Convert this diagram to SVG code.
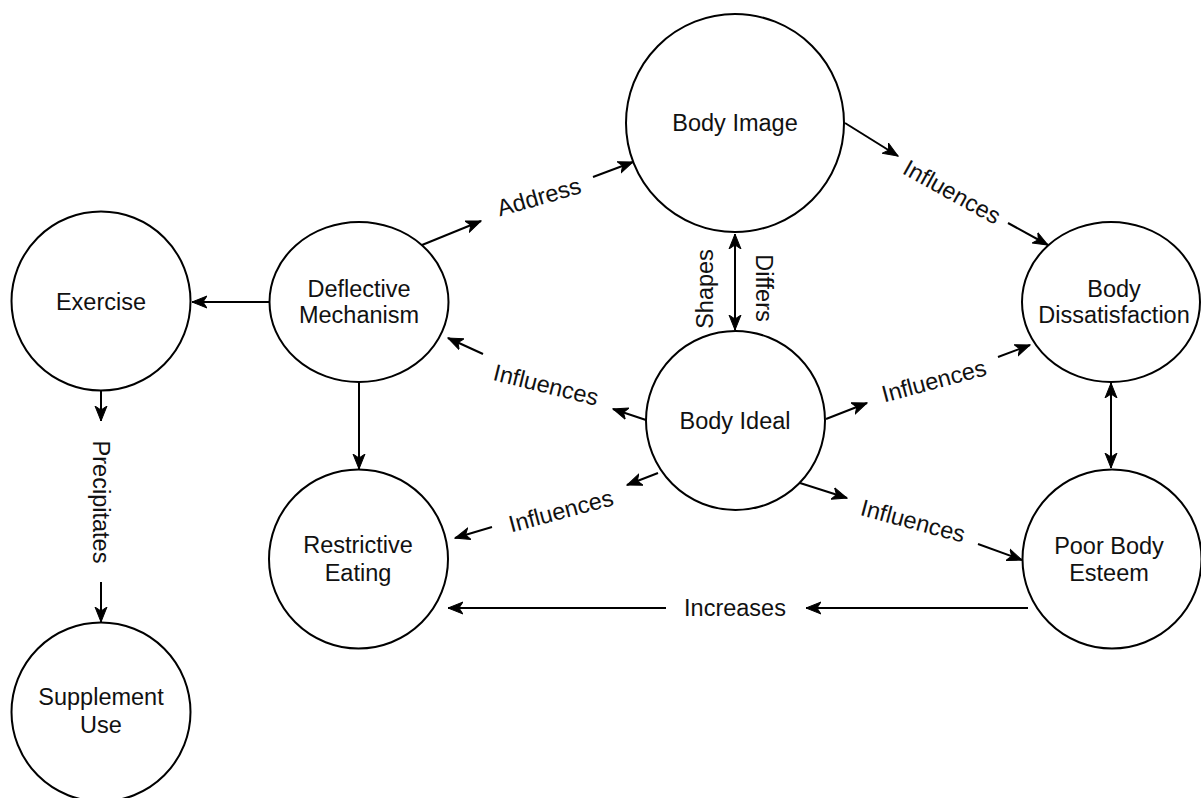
<svg xmlns="http://www.w3.org/2000/svg" width="1201" height="798" viewBox="0 0 1201 798">
<style>
.n{fill:#fff;stroke:#000;stroke-width:2}
.t{font-family:"Liberation Sans",Arial,Helvetica,sans-serif;font-size:23.5px;fill:#111;text-anchor:middle}
.ea{fill:none;stroke:#000;stroke-width:2;marker-end:url(#ah)}
.eb{fill:none;stroke:#000;stroke-width:2;marker-end:url(#ah);marker-start:url(#ah)}
</style>
<defs>
<marker id="ah" markerUnits="userSpaceOnUse" markerWidth="16" markerHeight="14" refX="15" refY="6.5" orient="auto-start-reverse" viewBox="0 0 16 13">
<path d="M0,0.5 L15,6.5 L0,12.5 L4,6.5 Z" fill="#000" stroke="#000" stroke-width="1"/>
</marker>
</defs>
<rect width="1201" height="798" fill="#fff"/>
<g id="connectors">
<line class="ea" x1="269" y1="302" x2="192" y2="302"/>
<line class="ea" x1="101" y1="391" x2="101" y2="421"/>
<line class="ea" x1="101" y1="582" x2="101" y2="622"/>
<line class="ea" x1="359" y1="382" x2="359" y2="469"/>
<line class="ea" x1="422" y1="245" x2="481" y2="221"/>
<line class="ea" x1="593" y1="177" x2="633" y2="162"/>
<line class="ea" x1="845" y1="123" x2="898" y2="156"/>
<line class="ea" x1="1008" y1="223" x2="1048" y2="245"/>
<line class="eb" x1="735" y1="234" x2="735" y2="330"/>
<line class="ea" x1="646" y1="420" x2="613" y2="409"/>
<line class="ea" x1="483" y1="354" x2="448" y2="338"/>
<line class="ea" x1="826" y1="419" x2="867" y2="403"/>
<line class="ea" x1="998" y1="357" x2="1030" y2="345"/>
<line class="ea" x1="658" y1="473" x2="627" y2="485"/>
<line class="ea" x1="492" y1="527" x2="455" y2="538"/>
<line class="ea" x1="800" y1="483" x2="847" y2="498"/>
<line class="ea" x1="978" y1="544" x2="1022" y2="560"/>
<line class="ea" x1="1028" y1="608" x2="806" y2="608"/>
<line class="ea" x1="666" y1="608" x2="448" y2="608"/>
<line class="eb" x1="1111" y1="383" x2="1111" y2="468"/>
<g>
<text class="t" transform="translate(539,197) rotate(-16)" y="8">Address</text>
<text class="t" transform="translate(952,192) rotate(29)" y="8">Influences</text>
<text class="t" transform="translate(705,289) rotate(-90)" y="8">Shapes</text>
<text class="t" transform="translate(764,288) rotate(90)" y="8">Differs</text>
<text class="t" transform="translate(546,385) rotate(14)" y="8">Influences</text>
<text class="t" transform="translate(934,381) rotate(-15)" y="8">Influences</text>
<text class="t" transform="translate(561,511) rotate(-15)" y="8">Influences</text>
<text class="t" transform="translate(913,521) rotate(15)" y="8">Influences</text>
<text class="t" x="735" y="616">Increases</text>
<text class="t" transform="translate(101,502) rotate(90)" y="8">Precipitates</text>
</g>
</g>
<g id="body-image"><circle class="n" cx="735" cy="123" r="109"/><text class="t" x="735" y="131">Body Image</text></g>
<g id="exercise"><circle class="n" cx="101" cy="301" r="89.5"/><text class="t" x="101" y="310">Exercise</text></g>
<g id="deflective-mechanism"><ellipse class="n" cx="359" cy="302" rx="89.5" ry="80"/><text class="t" x="359" y="297">Deflective</text><text class="t" x="359" y="323">Mechanism</text></g>
<g id="body-ideal"><circle class="n" cx="735.5" cy="420.5" r="89.5"/><text class="t" x="735" y="429">Body Ideal</text></g>
<g id="body-dissatisfaction"><ellipse class="n" cx="1111" cy="302" rx="89" ry="80"/><text class="t" x="1114" y="297">Body</text><text class="t" x="1114" y="323">Dissatisfaction</text></g>
<g id="poor-body-esteem"><circle class="n" cx="1112" cy="559" r="89.5"/><text class="t" x="1109" y="554">Poor Body</text><text class="t" x="1109" y="581">Esteem</text></g>
<g id="restrictive-eating"><circle class="n" cx="358.5" cy="559" r="89.5"/><text class="t" x="358" y="553">Restrictive</text><text class="t" x="358" y="581">Eating</text></g>
<g id="supplement-use"><circle class="n" cx="101" cy="712" r="89.5"/><text class="t" x="101" y="705">Supplement</text><text class="t" x="101" y="733">Use</text></g>
</svg>
